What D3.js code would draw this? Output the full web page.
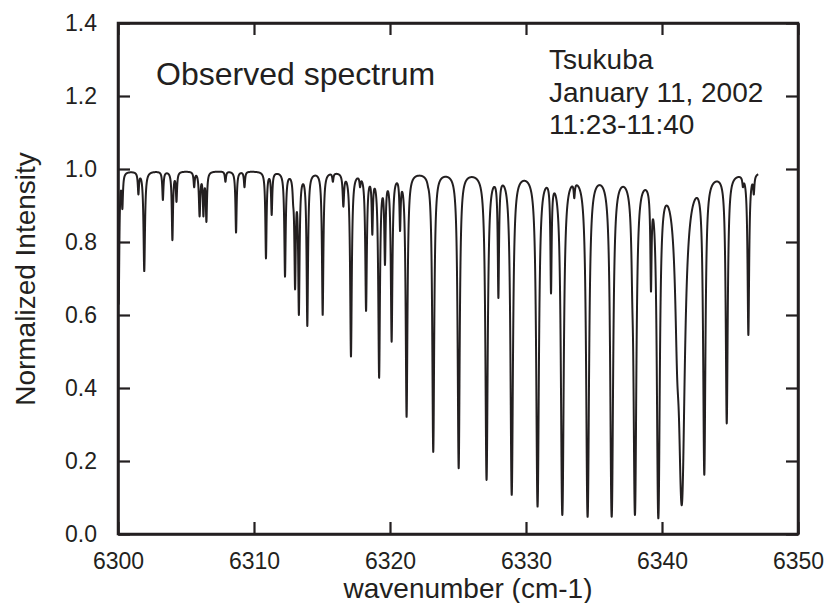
<!DOCTYPE html>
<html>
<head>
<meta charset="utf-8">
<script src="https://cdn.jsdelivr.net/npm/d3@7"></script>
<style>
  html, body { margin: 0; padding: 0; background: #ffffff; }
  svg { display: block; }
  text { font-family: "Liberation Sans", Arial, Helvetica, sans-serif; fill: #231f20; }
</style>
</head>
<body>
<svg id="chart" width="825" height="603"></svg>
<script>
// ---- data ----
// absorption line centres (cm-1)
const lineCenters = [
  6300.05, 6300.32, 6301.50, 6301.93, 6303.30, 6304.00, 6304.30, 6305.60, 6306.00, 6306.28,
  6306.50, 6307.90, 6308.68, 6309.30, 6310.88, 6311.30, 6312.28, 6312.88, 6313.02, 6313.30,
  6313.92, 6315.05, 6315.80, 6316.57, 6317.13, 6317.80, 6318.24, 6318.70, 6319.20, 6319.63,
  6320.12, 6320.74, 6321.22, 6322.80, 6323.18, 6324.80, 6325.05, 6327.10, 6327.97, 6328.95,
  6330.85, 6331.84, 6332.67, 6333.55, 6334.53, 6336.30, 6337.82, 6338.01, 6339.19, 6339.73,
  6340.35, 6341.13, 6341.45, 6343.11, 6344.76, 6345.95, 6346.35, 6346.75
];
// observed minimum normalized intensity at each line centre
const lineMinima = [
  0.63, 0.89, 0.93, 0.72, 0.915, 0.805, 0.91, 0.95, 0.87, 0.87,
  0.855, 0.965, 0.826, 0.95, 0.755, 0.874, 0.705, 0.90, 0.67, 0.60,
  0.57, 0.60, 0.965, 0.897, 0.486, 0.95, 0.611, 0.82, 0.428, 0.737,
  0.527, 0.83, 0.321, 0.95, 0.225, 0.95, 0.18, 0.148, 0.646, 0.107,
  0.075, 0.659, 0.052, 0.92, 0.047, 0.047, 0.62, 0.052, 0.664, 0.043,
  0.93, 0.413, 0.079, 0.162, 0.303, 0.95, 0.545, 0.93
];
// half widths of the lines (cm-1)
const lineWidths = [
  0.05, 0.05, 0.05, 0.06, 0.05, 0.05, 0.05, 0.05, 0.06, 0.05,
  0.05, 0.05, 0.05, 0.05, 0.05, 0.05, 0.055, 0.05, 0.055, 0.055,
  0.055, 0.055, 0.05, 0.06, 0.06, 0.05, 0.06, 0.05, 0.06, 0.055,
  0.06, 0.05, 0.06, 0.05, 0.06, 0.05, 0.06, 0.065, 0.05, 0.065,
  0.065, 0.05, 0.065, 0.05, 0.065, 0.065, 0.07, 0.065, 0.05, 0.065,
  0.06, 0.15, 0.15, 0.065, 0.065, 0.05, 0.06, 0.05
];
const continuumLevel = 0.995;
const spectrumStart = 6300.0;
const spectrumEnd = 6347.08;

const xTicks = [6300, 6310, 6320, 6330, 6340, 6350];
const yTicks = [0.0, 0.2, 0.4, 0.6, 0.8, 1.0, 1.2, 1.4];
const xTitle = "wavenumber (cm-1)";
const yTitle = "Normalized Intensity";
const panelTitle = "Observed spectrum";
const noteLines = ["Tsukuba", "January 11, 2002", "11:23-11:40"];

// ---- build the spectrum from the line list ----
const nLines = lineCenters.length;
const tau = lineMinima.map(m => -Math.log(m / continuumLevel));
function model(x) {
  let s = 0;
  for (let i = 0; i < nLines; i++) {
    const g = lineWidths[i], d = x - lineCenters[i];
    s += tau[i] * g * g / (d * d + g * g);
  }
  return continuumLevel * Math.exp(-s);
}
// adjust optical depths so overlapping lines still reach the read minima
for (let it = 0; it < 8; it++) {
  for (let i = 0; i < nLines; i++) {
    const m = model(lineCenters[i]);
    tau[i] = Math.max(0.001, tau[i] + Math.log(m / lineMinima[i]));
  }
}
const wn = d3.range(spectrumStart, spectrumEnd, 0.004);
const spectrum = wn.map(x => ({x: x, y: model(x)}));

// ---- drawing ----
const svg = d3.select("#chart");
const L = 118, R = 798, T = 23, B = 534;
const x = d3.scaleLinear().domain([6300, 6350]).range([L, R]);
const y = d3.scaleLinear().domain([0, 1.4]).range([B, T]);
const ink = "#231f20";

const defs = svg.append("defs");
defs.append("clipPath").attr("id", "plotclip")
  .append("rect").attr("x", L).attr("y", T).attr("width", R - L).attr("height", B - T);

svg.append("path")
  .datum(spectrum)
  .attr("clip-path", "url(#plotclip)")
  .attr("fill", "none")
  .attr("stroke", ink)
  .attr("stroke-width", 2)
  .attr("stroke-linejoin", "round")
  .attr("d", d3.line().x(d => x(d.x)).y(d => y(d.y)));

// axes
const tickLen = 12;
const gB = svg.append("g").attr("transform", `translate(0,${B})`)
  .call(d3.axisBottom(x).tickValues(xTicks).tickSize(-tickLen).tickSizeOuter(0)
    .tickPadding(19).tickFormat(d3.format("d")));
const gT = svg.append("g").attr("transform", `translate(0,${T})`)
  .call(d3.axisTop(x).tickValues(xTicks).tickSize(-tickLen).tickSizeOuter(0).tickFormat(""));
const gL = svg.append("g").attr("transform", `translate(${L},0)`)
  .call(d3.axisLeft(y).tickValues(yTicks).tickSize(-tickLen).tickSizeOuter(0)
    .tickPadding(21).tickFormat(d3.format(".1f")));
const gR = svg.append("g").attr("transform", `translate(${R},0)`)
  .call(d3.axisRight(y).tickValues(yTicks).tickSize(-tickLen).tickSizeOuter(0).tickFormat(""));

[gB, gT, gL, gR].forEach(g => {
  g.select(".domain").attr("stroke", ink).attr("stroke-width", 2.5);
  g.selectAll(".tick line").attr("stroke", ink).attr("stroke-width", 2.2);
  g.selectAll(".tick text").attr("fill", ink).style("font-size", "23px")
    .style("font-family", '"Liberation Sans", Arial, sans-serif');
});
svg.append("rect").attr("x", L).attr("y", T).attr("width", R - L).attr("height", B - T)
  .attr("fill", "none").attr("stroke", ink).attr("stroke-width", 2.5);

// titles
svg.append("text").attr("x", 468).attr("y", 598).attr("text-anchor", "middle")
  .style("font-size", "28px").text(xTitle);
svg.append("text").attr("transform", "translate(35,279) rotate(-90)").attr("text-anchor", "middle")
  .style("font-size", "28px").text(yTitle);
svg.append("text").attr("x", 156).attr("y", 85)
  .style("font-size", "32px").text(panelTitle);
noteLines.forEach((t, i) => {
  svg.append("text").attr("x", 549).attr("y", 69 + i * 32.5)
    .style("font-size", "28px").text(t);
});
</script>
</body>
</html>
